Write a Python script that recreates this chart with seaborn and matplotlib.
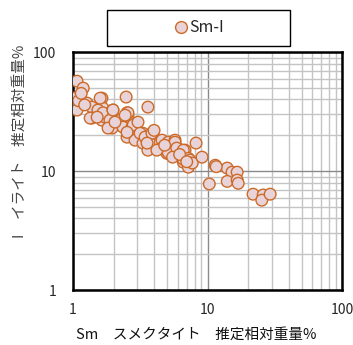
import matplotlib
matplotlib.use("Agg")
import matplotlib.pyplot as plt
import matplotlib.ticker as mticker
from matplotlib.patches import Rectangle
import seaborn as sns
import pandas as pd

# Estimated relative weight % : smectite (x) vs illite (y)
sm_pct = [1.07, 1.19, 1.03, 1.13, 1.00, 1.07, 1.27, 1.38, 1.64, 1.67, 1.53, 1.38,
          1.64, 1.73, 1.95, 2.05, 2.30, 2.56, 2.52, 1.95, 1.07, 1.00, 1.34, 1.59,
          1.67, 1.51, 1.98, 1.88, 2.24, 1.82, 2.56, 2.35, 2.74, 2.52, 2.89, 3.31,
          3.60, 3.31, 3.93, 4.44, 3.60, 5.25, 4.99, 2.48, 1.98, 2.44, 2.80, 2.52,
          3.04, 3.15, 3.43, 3.86, 3.55, 4.59, 5.10, 4.67, 5.50, 5.73, 5.10, 6.00,
          6.80, 6.60, 2.05, 4.20, 5.73, 5.90, 6.60, 5.50, 6.60, 7.20, 7.20, 7.40,
          7.70, 8.21, 9.10, 10.3, 11.4, 14.0, 15.2, 16.6, 14.0, 16.6, 16.9, 21.8,
          25.9, 25.3, 29.2, 1.10, 1.15, 1.22, 4.00, 4.80, 6.20, 7.00, 11.6]
il_pct = [57.0, 49.8, 41.0, 43.5, 38.0, 35.9, 37.3, 34.5, 41.0, 33.8, 32.6, 27.9,
          26.8, 28.4, 27.9, 25.8, 24.4, 29.5, 30.9, 23.0, 32.6, 41.0, 27.9, 41.0,
          30.9, 28.4, 32.6, 26.8, 26.8, 23.0, 30.9, 23.4, 23.4, 19.3, 18.2, 20.8,
          34.5, 17.2, 20.8, 17.5, 15.0, 16.5, 14.1, 41.9, 32.6, 29.5, 24.4, 21.2,
          25.8, 20.8, 19.3, 20.8, 17.2, 18.2, 17.5, 15.9, 15.9, 18.2, 14.4, 15.6,
          15.0, 11.9, 25.8, 15.0, 17.5, 15.6, 15.0, 13.1, 12.6, 12.8, 10.8, 12.4,
          11.7, 17.2, 13.1, 7.8, 11.2, 10.6, 9.8, 9.8, 8.2, 8.4, 7.9, 6.4,
          6.3, 5.7, 6.4, 39.0, 45.0, 36.0, 22.0, 16.5, 13.8, 12.0, 10.9]

series_name = "Sm-I"
x_ticks = [1, 10, 100]
y_ticks = [1, 10, 100]
x_label = "Sm\u3000スメクタイト\u3000推定相対重量%"
y_label = "I\u3000イライト\u3000推定相対重量%"

face = "#E8D3D8"
edge = "#CC6A28"

df = pd.DataFrame({"sm": sm_pct, "il": il_pct, "series": series_name})

sns.set_style("white")
plt.rcParams["font.family"] = ["Noto Sans CJK JP", "DejaVu Sans"]

fig = plt.figure(figsize=(3.53, 3.45), dpi=100)
ax = fig.add_axes([0.207, 0.159, 0.762, 0.690])

sns.scatterplot(data=df, x="sm", y="il", hue="series",
                palette={series_name: face}, edgecolor=edge,
                linewidth=1.0, s=70, ax=ax, zorder=3, legend=False)

ax.set_xscale("log")
ax.set_yscale("log")
ax.set_xlim(1, 100)
ax.set_ylim(1, 100)

ax.xaxis.set_major_locator(mticker.FixedLocator(x_ticks))
ax.yaxis.set_major_locator(mticker.FixedLocator(y_ticks))
ax.xaxis.set_minor_locator(mticker.LogLocator(base=10, subs=range(2, 10)))
ax.yaxis.set_minor_locator(mticker.LogLocator(base=10, subs=range(2, 10)))
ax.xaxis.set_major_formatter(mticker.FixedFormatter([str(v) for v in x_ticks]))
ax.yaxis.set_major_formatter(mticker.FixedFormatter([str(v) for v in y_ticks]))
ax.xaxis.set_minor_formatter(mticker.NullFormatter())
ax.yaxis.set_minor_formatter(mticker.NullFormatter())

ax.grid(True, which="major", color="#8a8a8a", linewidth=1.0, zorder=0)
ax.grid(True, which="minor", color="#c4c4c4", linewidth=1.0, zorder=0)
ax.set_axisbelow(True)

ax.tick_params(axis="x", which="both", length=0, pad=9, labelsize=10)
ax.tick_params(axis="y", which="both", length=0, pad=12, labelsize=10)

for sp in ax.spines.values():
    sp.set_visible(True)
    sp.set_color("black")
    sp.set_linewidth(1.8)

ax.set_xlabel(x_label, fontsize=10.5, color="#111111", va="center")
ax.xaxis.set_label_coords(0.457, -0.189)
ax.set_ylabel(y_label, fontsize=10.5, color="#444444", va="center")
ax.yaxis.set_label_coords(-0.20, 0.626)

# Legend: framed box above the plot area
fig.patches.append(Rectangle((0.303, 0.867), 0.518, 0.104, transform=fig.transFigure,
                             facecolor="white", edgecolor="black", linewidth=1.0))
handle = plt.Line2D([], [], linestyle="none", marker="o", markersize=8.5,
                    markerfacecolor=face, markeredgecolor=edge,
                    markeredgewidth=1.0)
fig.legend([handle], [series_name], loc="center",
           bbox_to_anchor=(0.562, 0.919), frameon=False,
           fontsize=11.5, handletextpad=0.05, handlelength=1.0)

fig.savefig("out.png", dpi=100)
